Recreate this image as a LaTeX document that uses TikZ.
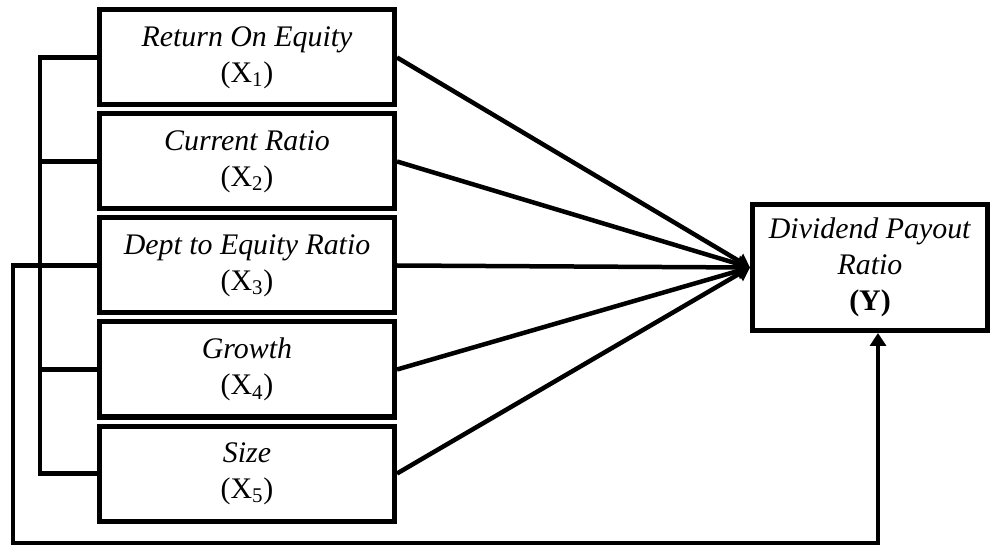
\documentclass[tikz,border=0pt]{standalone}
\usepackage{fontspec}
\setmainfont{Liberation Serif}
\usepackage{tikz}
\usetikzlibrary{arrows.meta,positioning}
\tikzset{
    var box/.style={
        draw=black,
        line width=0.1cm,
        fill=white,
        minimum width=5.9cm,
        minimum height=1.9cm,
        align=center,
        inner sep=2pt,
        font=\fontsize{17}{20.5}\selectfont
    },
    dep box/.style={var box, minimum width=4.7cm, minimum height=2.52cm},
    link/.style={line width=0.09cm, draw=black},
    link arrow/.style={link, -{Triangle[length=0.26cm,width=0.32cm]}}
}

\begin{document}
\begin{tikzpicture}[
    node distance=0.08cm,
]
\useasboundingbox (0,0) rectangle (19.86,-10.92);
% Independent variables
\node[var box] (x1) at (4.94,-1.15) {\textit{Return On Equity}\\(X\textsubscript{1})};
\node[var box, below=of x1] (x2) {\textit{Current Ratio}\\(X\textsubscript{2})};
\node[var box, below=of x2] (x3) {\textit{Dept to Equity Ratio}\\(X\textsubscript{3})};
\node[var box, below=of x3] (x4) {\textit{Growth}\\(X\textsubscript{4})};
\node[var box, below=of x4] (x5) {\textit{Size}\\(X\textsubscript{5})};

% Dependent variable
\node[dep box] (y) at (17.4,-5.35) {\textit{Dividend Payout}\\\textit{Ratio}\\\textbf{(Y)}};

% Bracket and feedback line
\coordinate (bus) at (0.8,0);
\coordinate (fb) at (0.26,-10.86);
\draw[link] (x1.west) -| (bus |- x5.west) -- (x5.west);
\foreach \n in {x2,x3,x4}
    \draw[link] (\n.west) -- (\n.west -| bus);
\draw[link arrow] (x3.west) -| (fb) -| ([xshift=0.16cm]y.south);

% Direct effects
\foreach \n in {x1,x2,x3,x4,x5}
    \draw[link arrow] (\n.east) -- (y.west);
\end{tikzpicture}
\end{document}
